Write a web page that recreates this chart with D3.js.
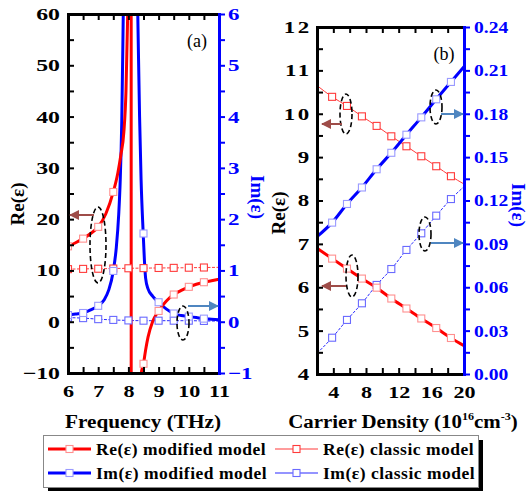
<!DOCTYPE html>
<html><head><meta charset="utf-8">
<script src="https://cdn.jsdelivr.net/npm/d3@7"></script>
<style>
body{margin:0;background:#fff}
svg{display:block}
text{font-family:"Liberation Serif","Times New Roman",serif;font-weight:bold}
</style>
</head><body>
<svg id="chart" width="532" height="491"></svg>
<script>
// ---------------- DATA ----------------
// panel (a): frequency axis
const freqTicks = [6, 7, 8, 9, 10, 11];
const freqMinor = [6.5, 7.5, 8.5, 9.5, 10.5];
const reATicks = [-10, 0, 10, 20, 30, 40, 50, 60];
const reAMinor = [-5, 5, 15, 25, 35, 45, 55];
const imATicks = [-1, 0, 1, 2, 3, 4, 5, 6];
const imAMinor = [-0.5, 0.5, 1.5, 2.5, 3.5, 4.5, 5.5];

// Re(eps) modified model (a) [THz, Re]
const reModifiedA = [[6,14.7],[6.25,15.4],[6.5,16.2],[6.75,17.2],[7,18.5],[7.25,21],[7.5,25.3],[7.65,29],[7.75,32.5],[7.85,37],[7.92,45],[7.97,58],[8.03,85],[8.09,400],[8.095,-400],[8.2,-60],[8.3,-25],[8.38,-13],[8.42,-10.3],[8.5,-8.2],[8.57,-5.5],[8.65,-3],[8.8,0],[9,2.1],[9.25,4],[9.5,5.3],[9.75,6.1],[10,6.8],[10.25,7.3],[10.5,7.7],[10.75,8.0],[11,8.3]];
const reModifiedAMarks = [[6,14.7],[6.5,16.2],[7,18.5],[7.5,25.3],[8.5,-8.2],[9,2.1],[9.5,5.3],[10,6.8],[10.5,7.7]];
// Re(eps) classic model (a)
const reClassicA = [[6,10.25],[6.5,10.3],[7,10.33],[7.5,10.37],[8,10.42],[8.5,10.45],[9,10.48],[9.5,10.5],[10,10.53],[10.5,10.57],[11,10.6]];
const reClassicAMarks = reClassicA.slice(0, 10);
// Im(eps) modified model (a)
const imModifiedA = [[6,0.13],[6.25,0.15],[6.5,0.17],[6.75,0.23],[7,0.31],[7.2,0.43],[7.35,0.62],[7.5,0.99],[7.6,1.45],[7.68,2.1],[7.73,2.77],[7.78,3.9],[7.83,6.0],[7.9,9],[8.07,14],[8.2,9],[8.31,6.0],[8.37,4.0],[8.42,2.77],[8.49,1.72],[8.53,1.2],[8.57,0.85],[8.65,0.64],[8.8,0.5],[9,0.38],[9.25,0.25],[9.5,0.16],[9.75,0.12],[10,0.1],[10.25,0.08],[10.5,0.06],[10.75,0.05],[11,0.04]];
const imModifiedAMarks = [[6,0.13],[6.5,0.17],[7,0.31],[7.5,0.99],[8.5,1.72],[9,0.38],[9.5,0.16],[10,0.1],[10.5,0.06]];
// Im(eps) classic model (a)
const imClassicA = [[6,0.08],[6.5,0.07],[7,0.05],[7.5,0.035],[8,0.025],[8.5,0.02],[9,0.02],[9.5,0.02],[10,0.02],[10.5,0.015],[11,0.012]];
const imClassicAMarks = imClassicA.slice(0, 10);

// panel (b): carrier density axis (1e16 cm^-3)
const densTicks = [4, 8, 12, 16, 20];
const densMinor = [2, 6, 10, 14, 18];
const reBTicks = [4, 5, 6, 7, 8, 9, 10, 11, 12];
const reBMinor = [4.5, 5.5, 6.5, 7.5, 8.5, 9.5, 10.5, 11.5];
const imBTicks = [0, 0.03, 0.06, 0.09, 0.12, 0.15, 0.18, 0.21, 0.24];
const imBMinor = [0.015, 0.045, 0.075, 0.105, 0.135, 0.165, 0.195, 0.225];

const density     = [2, 3.85, 5.67, 7.5, 9.3, 11.1, 12.95, 14.77, 16.6, 18.4, 20];
const reModifiedB = [6.9, 6.66, 6.43, 6.2, 5.99, 5.74, 5.51, 5.28, 5.06, 4.83, 4.65];
const reClassicB  = [10.65, 10.39, 10.18, 9.94, 9.72, 9.48, 9.25, 9.02, 8.79, 8.56, 8.38];
const imModifiedB = [0.095, 0.1047, 0.1176, 0.129, 0.1416, 0.153, 0.1655, 0.1775, 0.19, 0.202, 0.2126];
const imClassicB  = [0.0143, 0.0251, 0.0374, 0.0489, 0.0616, 0.0726, 0.0858, 0.0973, 0.1095, 0.121, 0.1296];

const legendLabels = ["Re(\u03b5) modified model", "Re(\u03b5) classic model", "Im(\u03b5) modified model", "Im(\u03b5) classic model"];

// ---------------- DRAW ----------------
const RED = "#ff0000", BLUE = "#0000ff";
const RED_C = "#ff3b3b", BLUE_C = "#2a2aff";
const RED_M = "#ff9090", BLUE_M = "#9a9aff";
const BROWN = "#9e4c48", STEEL = "#4f86c0";

const svg = d3.select("#chart");
const defs = svg.append("defs");
function arrowDef(id, color) {
  defs.append("marker").attr("id", id).attr("viewBox", "0 0 10 10").attr("refX", 9).attr("refY", 5)
    .attr("markerWidth", 5.5).attr("markerHeight", 5).attr("markerUnits", "strokeWidth").attr("orient", "auto")
    .append("path").attr("d", "M0,0 L10,5 L0,10 z").attr("fill", color);
}
arrowDef("arB", BROWN); arrowDef("arS", STEEL);

function clip(id, x0, y0, x1, y1) {
  defs.append("clipPath").attr("id", id).append("rect").attr("x", x0).attr("y", y0).attr("width", x1 - x0).attr("height", y1 - y0);
}

function styleLabels(g, o) {
  g.selectAll(".tick text").each(function () {
    const t = d3.select(this);
    const x = +t.attr("x") || 0;
    t.attr("x", x / o.sx).attr("transform", `scale(${o.sx},1)`)
      .style("font-size", o.size + "px").style("letter-spacing", (o.ls || 0) + "px")
      .attr("fill", o.color);
    if (o.dy != null) t.attr("dy", o.dy);
  });
}

function axis(g, gen, major, minor, fmt, color, sw) {
  const all = major.concat(minor);
  g.call(gen.tickValues(all).tickSizeOuter(0).tickFormat(d => major.includes(d) ? fmt(d) : ""));
  g.select(".domain").attr("stroke", color).attr("stroke-width", sw).attr("stroke-linecap", "square");
  g.selectAll(".tick line").attr("stroke", color).attr("stroke-width", 2);
}

function series(g, pts, xs, ys, color, w, dash) {
  g.append("path").datum(pts)
    .attr("d", d3.line().x(d => xs(d[0])).y(d => ys(d[1])).curve(d3.curveMonotoneX))
    .attr("fill", "none").attr("stroke", color).attr("stroke-width", w)
    .attr("stroke-dasharray", dash || null);
}
function marks(g, pts, xs, ys, color) {
  g.selectAll(null).data(pts).enter().append("rect")
    .attr("x", d => xs(d[0]) - 3.5).attr("y", d => ys(d[1]) - 3.5)
    .attr("width", 7).attr("height", 7).attr("fill", "#fff").attr("stroke", color).attr("stroke-width", 1.1);
}
function ellipse(cx, cy, rx, ry) {
  svg.append("ellipse").attr("cx", cx).attr("cy", cy).attr("rx", rx).attr("ry", ry)
    .attr("fill", "none").attr("stroke", "#000").attr("stroke-width", 1.6).attr("stroke-dasharray", "5,3");
}
function arrow(x1, y1, x2, y2, id, color) {
  svg.append("line").attr("x1", x1).attr("y1", y1).attr("x2", x2).attr("y2", y2)
    .attr("stroke", color).attr("stroke-width", 2).attr("marker-end", `url(#${id})`);
}

// ---------- Panel (a) ----------
const xA = d3.scaleLinear().domain([6, 11]).range([68, 219]);
const yA = d3.scaleLinear().domain([-10, 60]).range([373, 14]);
const yA2 = d3.scaleLinear().domain([-1, 6]).range([373, 14]);
clip("clipA", 68, 14, 219, 373);
const pA = svg.append("g").attr("clip-path", "url(#clipA)");
series(pA, reClassicA, xA, yA, RED_C, 1, "3,1.5");
series(pA, imClassicA, xA, yA2, BLUE_C, 1, "3,1.5");
series(pA, imModifiedA, xA, yA2, BLUE, 3);
series(pA, reModifiedA, xA, yA, RED, 3);
marks(pA, reClassicAMarks, xA, yA, RED_C);
marks(pA, imClassicAMarks, xA, yA2, "#6a6aff");
marks(pA, imModifiedAMarks, xA, yA2, BLUE_M);
marks(pA, reModifiedAMarks, xA, yA, RED_M);

const fInt = d => d3.format("d")(d);
const gAx = svg.append("g").attr("transform", "translate(0,373)");
axis(gAx, d3.axisBottom(xA).tickSizeInner(-6).tickPadding(12), freqTicks, freqMinor, fInt, "#000", 3);
styleLabels(gAx, {size: 17, sx: 1.3, color: "#000", dy: "0.71em"});
const gAt = svg.append("g").attr("transform", "translate(0,14)");
axis(gAt, d3.axisTop(xA).tickSizeInner(-6), freqTicks, freqMinor, d => "", "#000", 3);
const gAl = svg.append("g").attr("transform", "translate(68,0)");
axis(gAl, d3.axisLeft(yA).tickSizeInner(-6).tickPadding(8), reATicks, reAMinor, fInt, "#000", 3);
styleLabels(gAl, {size: 17, sx: 1.4, color: "#000"});
const gAr = svg.append("g").attr("transform", "translate(219,0)");
axis(gAr, d3.axisRight(yA2).tickSizeInner(6).tickPadding(3), imATicks, imAMinor, fInt, BLUE, 3);
styleLabels(gAr, {size: 17, sx: 1.35, color: BLUE});

svg.append("text").attr("x", 143).attr("y", 428).attr("text-anchor", "middle")
  .attr("transform", "translate(143,0) scale(1.12,1) translate(-143,0)")
  .style("font-size", "19px").text("Frequency (THz)");
svg.append("text").attr("transform", "translate(24,204) rotate(-90)").attr("text-anchor", "middle")
  .style("font-size", "19px").text("Re(\u03b5)");
svg.append("text").attr("transform", "translate(251,197) rotate(90)").attr("text-anchor", "middle")
  .style("font-size", "19px").attr("fill", BLUE).text("Im(\u03b5)");
svg.append("text").attr("x", 197).attr("y", 47).attr("text-anchor", "middle")
  .style("font-size", "18px").style("font-weight", "normal").text("(a)");

ellipse(98, 245, 8, 38);
arrow(94, 215, 70, 215, "arB", BROWN);
ellipse(183, 323, 6, 17);
arrow(188, 306, 218, 306, "arS", STEEL);

// ---------- Panel (b) ----------
const xB = d3.scaleLinear().domain([2, 20]).range([317, 464]);
const yB = d3.scaleLinear().domain([4, 12]).range([374, 27]);
const yB2 = d3.scaleLinear().domain([0, 0.24]).range([374, 27]);
clip("clipB", 317, 27, 464, 374);
const pB = svg.append("g").attr("clip-path", "url(#clipB)");
const zipB = arr => density.map((x, i) => [x, arr[i]]);
const inner = arr => zipB(arr).slice(1, 10);
series(pB, zipB(reClassicB), xB, yB, RED_C, 1);
series(pB, zipB(imClassicB), xB, yB2, BLUE_C, 1, "3,1.5");
series(pB, zipB(reModifiedB), xB, yB, RED, 3);
series(pB, zipB(imModifiedB), xB, yB2, BLUE, 3);
marks(pB, inner(reClassicB), xB, yB, RED_C);
marks(pB, inner(imClassicB), xB, yB2, "#6a6aff");
marks(pB, inner(reModifiedB), xB, yB, RED_M);
marks(pB, inner(imModifiedB), xB, yB2, BLUE_M);

const gBx = svg.append("g").attr("transform", "translate(0,374)");
axis(gBx, d3.axisBottom(xB).tickSizeInner(-6).tickPadding(12), densTicks, densMinor, fInt, "#000", 3);
styleLabels(gBx, {size: 17, sx: 1.3, color: "#000", dy: "0.71em"});
const gBt = svg.append("g").attr("transform", "translate(0,27)");
axis(gBt, d3.axisTop(xB).tickSizeInner(-6), densTicks, densMinor, d => "", "#000", 3);
const gBl = svg.append("g").attr("transform", "translate(317,0)");
axis(gBl, d3.axisLeft(yB).tickSizeInner(-6).tickPadding(5), reBTicks, reBMinor, fInt, "#000", 3);
styleLabels(gBl, {size: 17, sx: 1.35, ls: 2, color: "#000"});
const gBr = svg.append("g").attr("transform", "translate(464,0)");
axis(gBr, d3.axisRight(yB2).tickSizeInner(6).tickPadding(4), imBTicks, imBMinor, d3.format(".2f"), BLUE, 3);
styleLabels(gBr, {size: 17, sx: 1.15, color: BLUE});

const ct = svg.append("text").attr("x", 403).attr("y", 428).attr("text-anchor", "middle")
  .attr("transform", "translate(403,0) scale(1.1,1) translate(-403,0)").style("font-size", "19px");
ct.append("tspan").text("Carrier Density (10");
ct.append("tspan").attr("dy", -8).style("font-size", "11px").text("16");
ct.append("tspan").attr("dy", 8).text("cm");
ct.append("tspan").attr("dy", -8).style("font-size", "11px").text("-3");
ct.append("tspan").attr("dy", 8).text(")");
svg.append("text").attr("transform", "translate(285,213) rotate(-90)").attr("text-anchor", "middle")
  .style("font-size", "19px").text("Re(\u03b5)");
svg.append("text").attr("transform", "translate(512,205) rotate(90)").attr("text-anchor", "middle")
  .style("font-size", "19px").attr("fill", BLUE).text("Im(\u03b5)");
svg.append("text").attr("x", 444).attr("y", 60).attr("text-anchor", "middle")
  .style("font-size", "18px").style("font-weight", "normal").text("(b)");

ellipse(346, 114, 6, 20);
arrow(342, 124, 322, 124, "arB", BROWN);
ellipse(436, 107, 6, 17);
arrow(441, 114, 463, 114, "arS", STEEL);
ellipse(352, 276, 6, 21);
arrow(346, 286, 322, 286, "arB", BROWN);
ellipse(425, 234, 6, 17);
arrow(431, 243, 463, 243, "arS", STEEL);

// ---------- Legend ----------
const lg = svg.append("g");
lg.append("rect").attr("x", 48).attr("y", 440).attr("width", 435).attr("height", 52).attr("fill", "#000");
lg.append("rect").attr("x", 43.5).attr("y", 435.5).attr("width", 435).attr("height", 52).attr("fill", "#fff").attr("stroke", "#888").attr("stroke-width", 1);
const legItems = [
  {x: 48, y: 449, c: RED, m: RED_M, w: 3},
  {x: 275, y: 449, c: RED_C, m: RED_C, w: 1.2},
  {x: 48, y: 473, c: BLUE, m: BLUE_M, w: 3},
  {x: 275, y: 473, c: BLUE_C, m: "#6a6aff", w: 1.2}
];
legItems.forEach((it, i) => {
  lg.append("line").attr("x1", it.x).attr("x2", it.x + 43).attr("y1", it.y).attr("y2", it.y).attr("stroke", it.c).attr("stroke-width", it.w);
  lg.append("rect").attr("x", it.x + 18).attr("y", it.y - 3.5).attr("width", 7).attr("height", 7).attr("fill", "#fff").attr("stroke", it.m).attr("stroke-width", 1.1);
  lg.append("text").attr("x", it.x + 48).attr("y", it.y + 6).style("font-size", "17.5px").style("letter-spacing", "0.5px").text(legendLabels[i]);
});
</script>
</body></html>
